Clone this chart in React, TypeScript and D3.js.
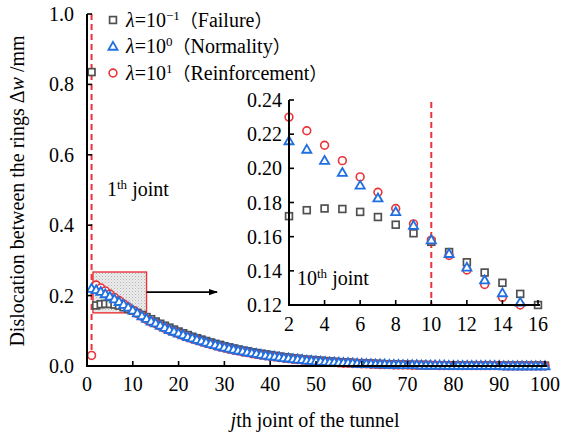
import React from "react";
import * as d3 from "d3";

const joints: number[] = Array.from({ length: 100 }, (_, i) => i + 1);

const failure: number[] = [
  0.835,
  0.172, 0.1755, 0.1765, 0.1762, 0.1745, 0.1715, 0.167, 0.162, 0.157, 0.151, 0.145, 0.139, 0.133, 0.1265, 0.12,
  0.1145, 0.109, 0.1035, 0.098, 0.093, 0.088, 0.083, 0.079, 0.075, 0.071, 0.067, 0.063, 0.06, 0.056,
  0.053, 0.05, 0.047, 0.044, 0.042, 0.039, 0.037, 0.035, 0.033, 0.031, 0.029, 0.027, 0.025, 0.024,
  0.022, 0.021, 0.019, 0.018, 0.017, 0.016, 0.015, 0.014, 0.013, 0.012, 0.011, 0.01, 0.01, 0.009,
  0.008, 0.008, 0.007, 0.007, 0.006, 0.006, 0.005, 0.005, 0.005, 0.004, 0.004, 0.004, 0.003, 0.003,
  0.003, 0.003, 0.002, 0.002, 0.002, 0.002, 0.002, 0.002, 0.002, 0.002,
  0.001, 0.001, 0.001, 0.001, 0.001, 0.001, 0.001, 0.001, 0.001, 0.001, 0.001, 0.001, 0.001, 0.001,
  0.001, 0.001, 0.001, 0.001,
];

const normality: number[] = [
  0.22, 0.216, 0.211, 0.2045, 0.1975, 0.19, 0.1825, 0.1745, 0.1665, 0.158, 0.15, 0.142, 0.1345, 0.127, 0.1215,
  0.115, 0.109, 0.103, 0.098, 0.093, 0.088, 0.083, 0.079, 0.075, 0.071, 0.067, 0.063, 0.06, 0.056, 0.053,
  0.05, 0.047, 0.044, 0.042, 0.039, 0.037, 0.035, 0.032, 0.03, 0.028, 0.027, 0.025, 0.023, 0.022, 0.02,
  0.019, 0.018, 0.016, 0.015, 0.014, 0.013, 0.012, 0.011, 0.011, 0.01, 0.009, 0.009, 0.008, 0.007, 0.007,
  0.006, 0.006, 0.005, 0.005, 0.005, 0.004, 0.004, 0.004, 0.003, 0.003, 0.003, 0.003, 0.002, 0.002, 0.002,
  0.002, 0.002, 0.002, 0.001, 0.001,
  0.001, 0.001, 0.001, 0.001, 0.001, 0.001, 0.001, 0.001, 0.001, 0.001,
  0, 0, 0, 0, 0, 0, 0, 0, 0, 0,
];

const reinforcement: number[] = [
  0.03, 0.23, 0.222, 0.2135, 0.2045, 0.195, 0.186, 0.1765, 0.1675, 0.158, 0.149, 0.1405, 0.132, 0.1245, 0.12,
  0.113, 0.107, 0.101, 0.096, 0.091, 0.086, 0.081, 0.077, 0.073, 0.069, 0.065, 0.061, 0.058, 0.054, 0.051,
  0.048, 0.045, 0.043, 0.04, 0.038, 0.035, 0.033, 0.031, 0.029, 0.027, 0.026, 0.024, 0.022, 0.021, 0.019,
  0.018, 0.017, 0.015, 0.014, 0.013, 0.012, 0.011, 0.011, 0.01, 0.009, 0.008, 0.008, 0.007, 0.007, 0.006,
  0.006, 0.005, 0.005, 0.004, 0.004, 0.004, 0.003, 0.003, 0.003, 0.003, 0.002, 0.002, 0.002, 0.002, 0.002,
  0.002, 0.001, 0.001, 0.001, 0.001,
  0.001, 0.001, 0.001, 0.001, 0.001, 0.001, 0.001, 0.001, 0.001, 0.001,
  0, 0, 0, 0, 0, 0, 0, 0, 0, 0,
];

const mainXTicks: number[] = [0, 10, 20, 30, 40, 50, 60, 70, 80, 90, 100];
const mainYTicks: number[] = [0, 0.2, 0.4, 0.6, 0.8, 1.0];
const insetXTicks: number[] = [2, 4, 6, 8, 10, 12, 14, 16];
const insetYTicks: number[] = [0.12, 0.14, 0.16, 0.18, 0.2, 0.22, 0.24];

const legendNames: string[] = ["Failure", "Normality", "Reinforcement"];
const legendExp: string[] = ["\u22121", "0", "1"];

const FONT = "Liberation Serif, Times New Roman, DejaVu Serif, serif";
const CJK = "Noto Sans CJK SC, sans-serif";
const GRAY = "#505050";
const BLUE = "#1f6fe0";
const RED = "#ec3338";
const FS = 20;
const SUP = 13;
const ts: React.CSSProperties = { fontFamily: FONT };

type Kind = "square" | "triangle" | "circle";

const triPath = d3.symbol(d3.symbolTriangle, 36)() as string;

function Marker({ kind, x, y }: { kind: Kind; x: number; y: number }) {
  if (kind === "square")
    return <rect x={x - 3.4} y={y - 3.4} width={6.8} height={6.8} fill="white" stroke={GRAY} strokeWidth={1.7} />;
  if (kind === "triangle")
    return <path d={triPath} transform={`translate(${x},${y + 0.6})`} fill="white" stroke={BLUE} strokeWidth={1.8} />;
  return <circle cx={x} cy={y} r={3.9} fill="white" stroke={RED} strokeWidth={1.6} />;
}

export default function App() {
  const x = d3.scaleLinear().domain([0, 100]).range([87, 545]);
  const y = d3.scaleLinear().domain([0, 1]).range([366, 14]);
  const xi = d3.scaleLinear().domain([2, 16]).range([289, 538]);
  const yi = d3.scaleLinear().domain([0.12, 0.24]).range([305, 100]);

  const series: { kind: Kind; values: number[] }[] = [
    { kind: "square", values: failure },
    { kind: "circle", values: reinforcement },
    { kind: "triangle", values: normality },
  ];

  const legendKinds: Kind[] = ["square", "triangle", "circle"];

  const rx0 = 1.3, rx1 = 13.0, ry0 = 0.151, ry1 = 0.267;
  const ay = 0.21, ax1 = 28.4;

  return (
    <svg width={561} height={439} style={{ position: "absolute", left: 0, top: 0, background: "white", fontFamily: FONT }}>
      <defs>
        <pattern id="dots" width={3} height={3} patternUnits="userSpaceOnUse">
          <rect width={3} height={3} fill="#ececec" />
          <rect width={1} height={1} fill="#b5b5b5" />
          <rect x={1.5} y={1.5} width={1} height={1} fill="#c8c8c8" />
        </pattern>
        <marker id="arrow" viewBox="0 0 10 10" refX={9} refY={5} markerWidth={12} markerHeight={9} markerUnits="userSpaceOnUse" orient="auto">
          <path d="M0,1.5 L10,5 L0,8.5 Z" fill="black" />
        </marker>
      </defs>

      <rect x={x(rx0)} y={y(ry1)} width={x(rx1) - x(rx0)} height={y(ry0) - y(ry1)} fill="url(#dots)" stroke={RED} strokeWidth={1.4} />
      <line x1={x(rx1)} x2={x(ax1)} y1={y(ay)} y2={y(ay)} stroke="black" strokeWidth={1.6} markerEnd="url(#arrow)" />

      <line x1={x(1)} x2={x(1)} y1={y(1)} y2={y(reinforcement[0]) - 5} stroke={RED} strokeWidth={2} strokeDasharray="6,4" />

      {series.map((s) =>
        s.values.map((v, i) => <Marker key={s.kind + i} kind={s.kind} x={x(joints[i])} y={y(v)} />)
      )}

      <line x1={x(0)} x2={x(100) + 2} y1={y(0)} y2={y(0)} stroke="black" strokeWidth={2} />
      <line x1={x(0)} x2={x(0)} y1={y(0) + 1} y2={y(1)} stroke="black" strokeWidth={2} />
      {mainXTicks.map((t) => (
        <g key={"mx" + t}>
          <line x1={x(t)} x2={x(t)} y1={y(0)} y2={y(0) - 5} stroke="black" strokeWidth={1.6} />
          <text x={x(t)} y={391} textAnchor="middle" fontSize={FS} style={ts}>{t}</text>
        </g>
      ))}
      {mainYTicks.map((t) => (
        <g key={"my" + t}>
          <line x1={x(0)} x2={x(0) + 5} y1={y(t)} y2={y(t)} stroke="black" strokeWidth={1.6} />
          <text x={74} y={y(t)} dy="0.35em" textAnchor="end" fontSize={FS} style={ts}>{t.toFixed(1)}</text>
        </g>
      ))}

      <text x={315} y={427} textAnchor="middle" fontSize={FS} style={ts}>
        <tspan fontStyle="italic">j</tspan>th joint of the tunnel
      </text>
      <text transform="translate(24,191) rotate(-90)" textAnchor="middle" fontSize={FS} style={ts}>
        Dislocation between the rings Δ<tspan fontStyle="italic">w</tspan> /mm
      </text>

      <text x={107} y={196} fontSize={FS} style={ts}>
        1<tspan fontSize={SUP} dy={-7}>th</tspan><tspan dy={7}> joint</tspan>
      </text>

      {legendNames.map((n, i) => {
        const cy = 20 + i * 26.5;
        return (
          <g key={n}>
            <Marker kind={legendKinds[i]} x={113} y={cy} />
            <text x={126} y={cy + 6.5} fontSize={FS} style={ts}>
              <tspan fontStyle="italic">λ</tspan>=10<tspan fontSize={SUP} dy={-7}>{legendExp[i]}</tspan>
              <tspan dy={7} style={{ fontFamily: CJK }} fontSize={18}>（</tspan>
              <tspan>{n}</tspan>
              <tspan style={{ fontFamily: CJK }} fontSize={18}>）</tspan>
            </text>
          </g>
        );
      })}

      <line x1={xi(10)} x2={xi(10)} y1={yi(0.24) + 2} y2={yi(0.12)} stroke={RED} strokeWidth={2} strokeDasharray="6,4" />
      {series.map((s) =>
        s.values.map((v, i) => {
          const j = joints[i];
          if (j < 2 || j > 16 || v < 0.1195) return null;
          return <Marker key={"i" + s.kind + i} kind={s.kind} x={xi(j)} y={yi(v)} />;
        })
      )}
      <line x1={xi(2)} x2={xi(16) + 2} y1={yi(0.12)} y2={yi(0.12)} stroke="black" strokeWidth={2} />
      <line x1={xi(2)} x2={xi(2)} y1={yi(0.12) + 1} y2={yi(0.24)} stroke="black" strokeWidth={2} />
      {insetXTicks.map((t) => (
        <g key={"ix" + t}>
          <line x1={xi(t)} x2={xi(t)} y1={yi(0.12)} y2={yi(0.12) - 5} stroke="black" strokeWidth={1.6} />
          <text x={xi(t)} y={331} textAnchor="middle" fontSize={FS} style={ts}>{t}</text>
        </g>
      ))}
      {insetYTicks.map((t) => (
        <g key={"iy" + t}>
          <line x1={xi(2)} x2={xi(2) + 5} y1={yi(t)} y2={yi(t)} stroke="black" strokeWidth={1.6} />
          <text x={282} y={yi(t)} dy="0.35em" textAnchor="end" fontSize={FS} style={ts}>{t.toFixed(2)}</text>
        </g>
      ))}
      <text x={297} y={285} fontSize={FS} style={ts}>
        10<tspan fontSize={SUP} dy={-7}>th</tspan><tspan dy={7}> joint</tspan>
      </text>
    </svg>
  );
}
